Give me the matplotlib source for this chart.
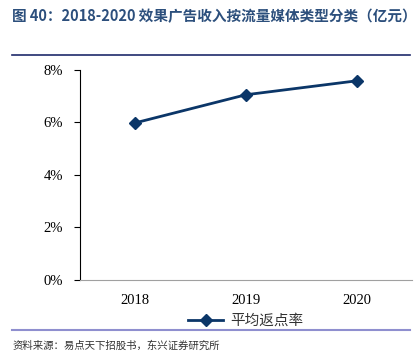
import matplotlib
matplotlib.use('Agg')
import matplotlib.pyplot as plt
from matplotlib.lines import Line2D

plt.rcParams['font.family'] = ['Noto Sans CJK SC', 'DejaVu Sans']

years = ['2018', '2019', '2020']
rebate = [5.98, 7.05, 7.58]
yticks = [0, 2, 4, 6, 8]
ytick_labels = ['0%', '2%', '4%', '6%', '8%']

navy = '#0b3668'
serif = ['Liberation Serif', 'DejaVu Serif']

fig = plt.figure(figsize=(4.16, 3.58), dpi=100)
ax = fig.add_axes([0.192, 0.218, 0.798, 0.587])

x = list(range(len(years)))
ax.plot(x, rebate, color=navy, lw=2, marker='D', ms=6, label='平均返点率')
ax.set_xlim(-0.5, 2.5)
ax.set_ylim(0, 8)
ax.set_xticks(x)
ax.set_xticklabels(years, fontfamily=serif, fontsize=10.5)
ax.set_yticks(yticks)
ax.set_yticklabels(ytick_labels, fontfamily=serif, fontsize=10.5)
ax.tick_params(axis='x', length=0, pad=10)
ax.tick_params(axis='y', direction='out', length=4, pad=8)
for s in ['top', 'right']:
    ax.spines[s].set_visible(False)
ax.spines['left'].set_color('black')
ax.spines['bottom'].set_color('#a0a0a0')

leg = ax.legend(loc='upper center', bbox_to_anchor=(0.5, -0.1), frameon=False,
                handlelength=2.4, handletextpad=0.5, fontsize=10.5)
for t in leg.get_texts():
    t.set_color('#333333')

# title and decorative rules
fig.text(0.03, 0.955, '图 40：2018-2020 效果广告收入按流量媒体类型分类（亿元）',
         fontsize=10.5, fontweight='bold', color='#2c4f7c', va='center')
fig.add_artist(Line2D([0.03, 0.985], [0.846, 0.846], color='#1f2a6b', lw=1.2))
fig.add_artist(Line2D([0.03, 0.985], [0.078, 0.078], color='#8f8fcf', lw=1.5))
fig.text(0.03, 0.035, '资料来源：易点天下招股书，东兴证券研究所', fontsize=7.5,
         style='italic', color='#333333', va='center')

fig.savefig('out.png', dpi=100)
